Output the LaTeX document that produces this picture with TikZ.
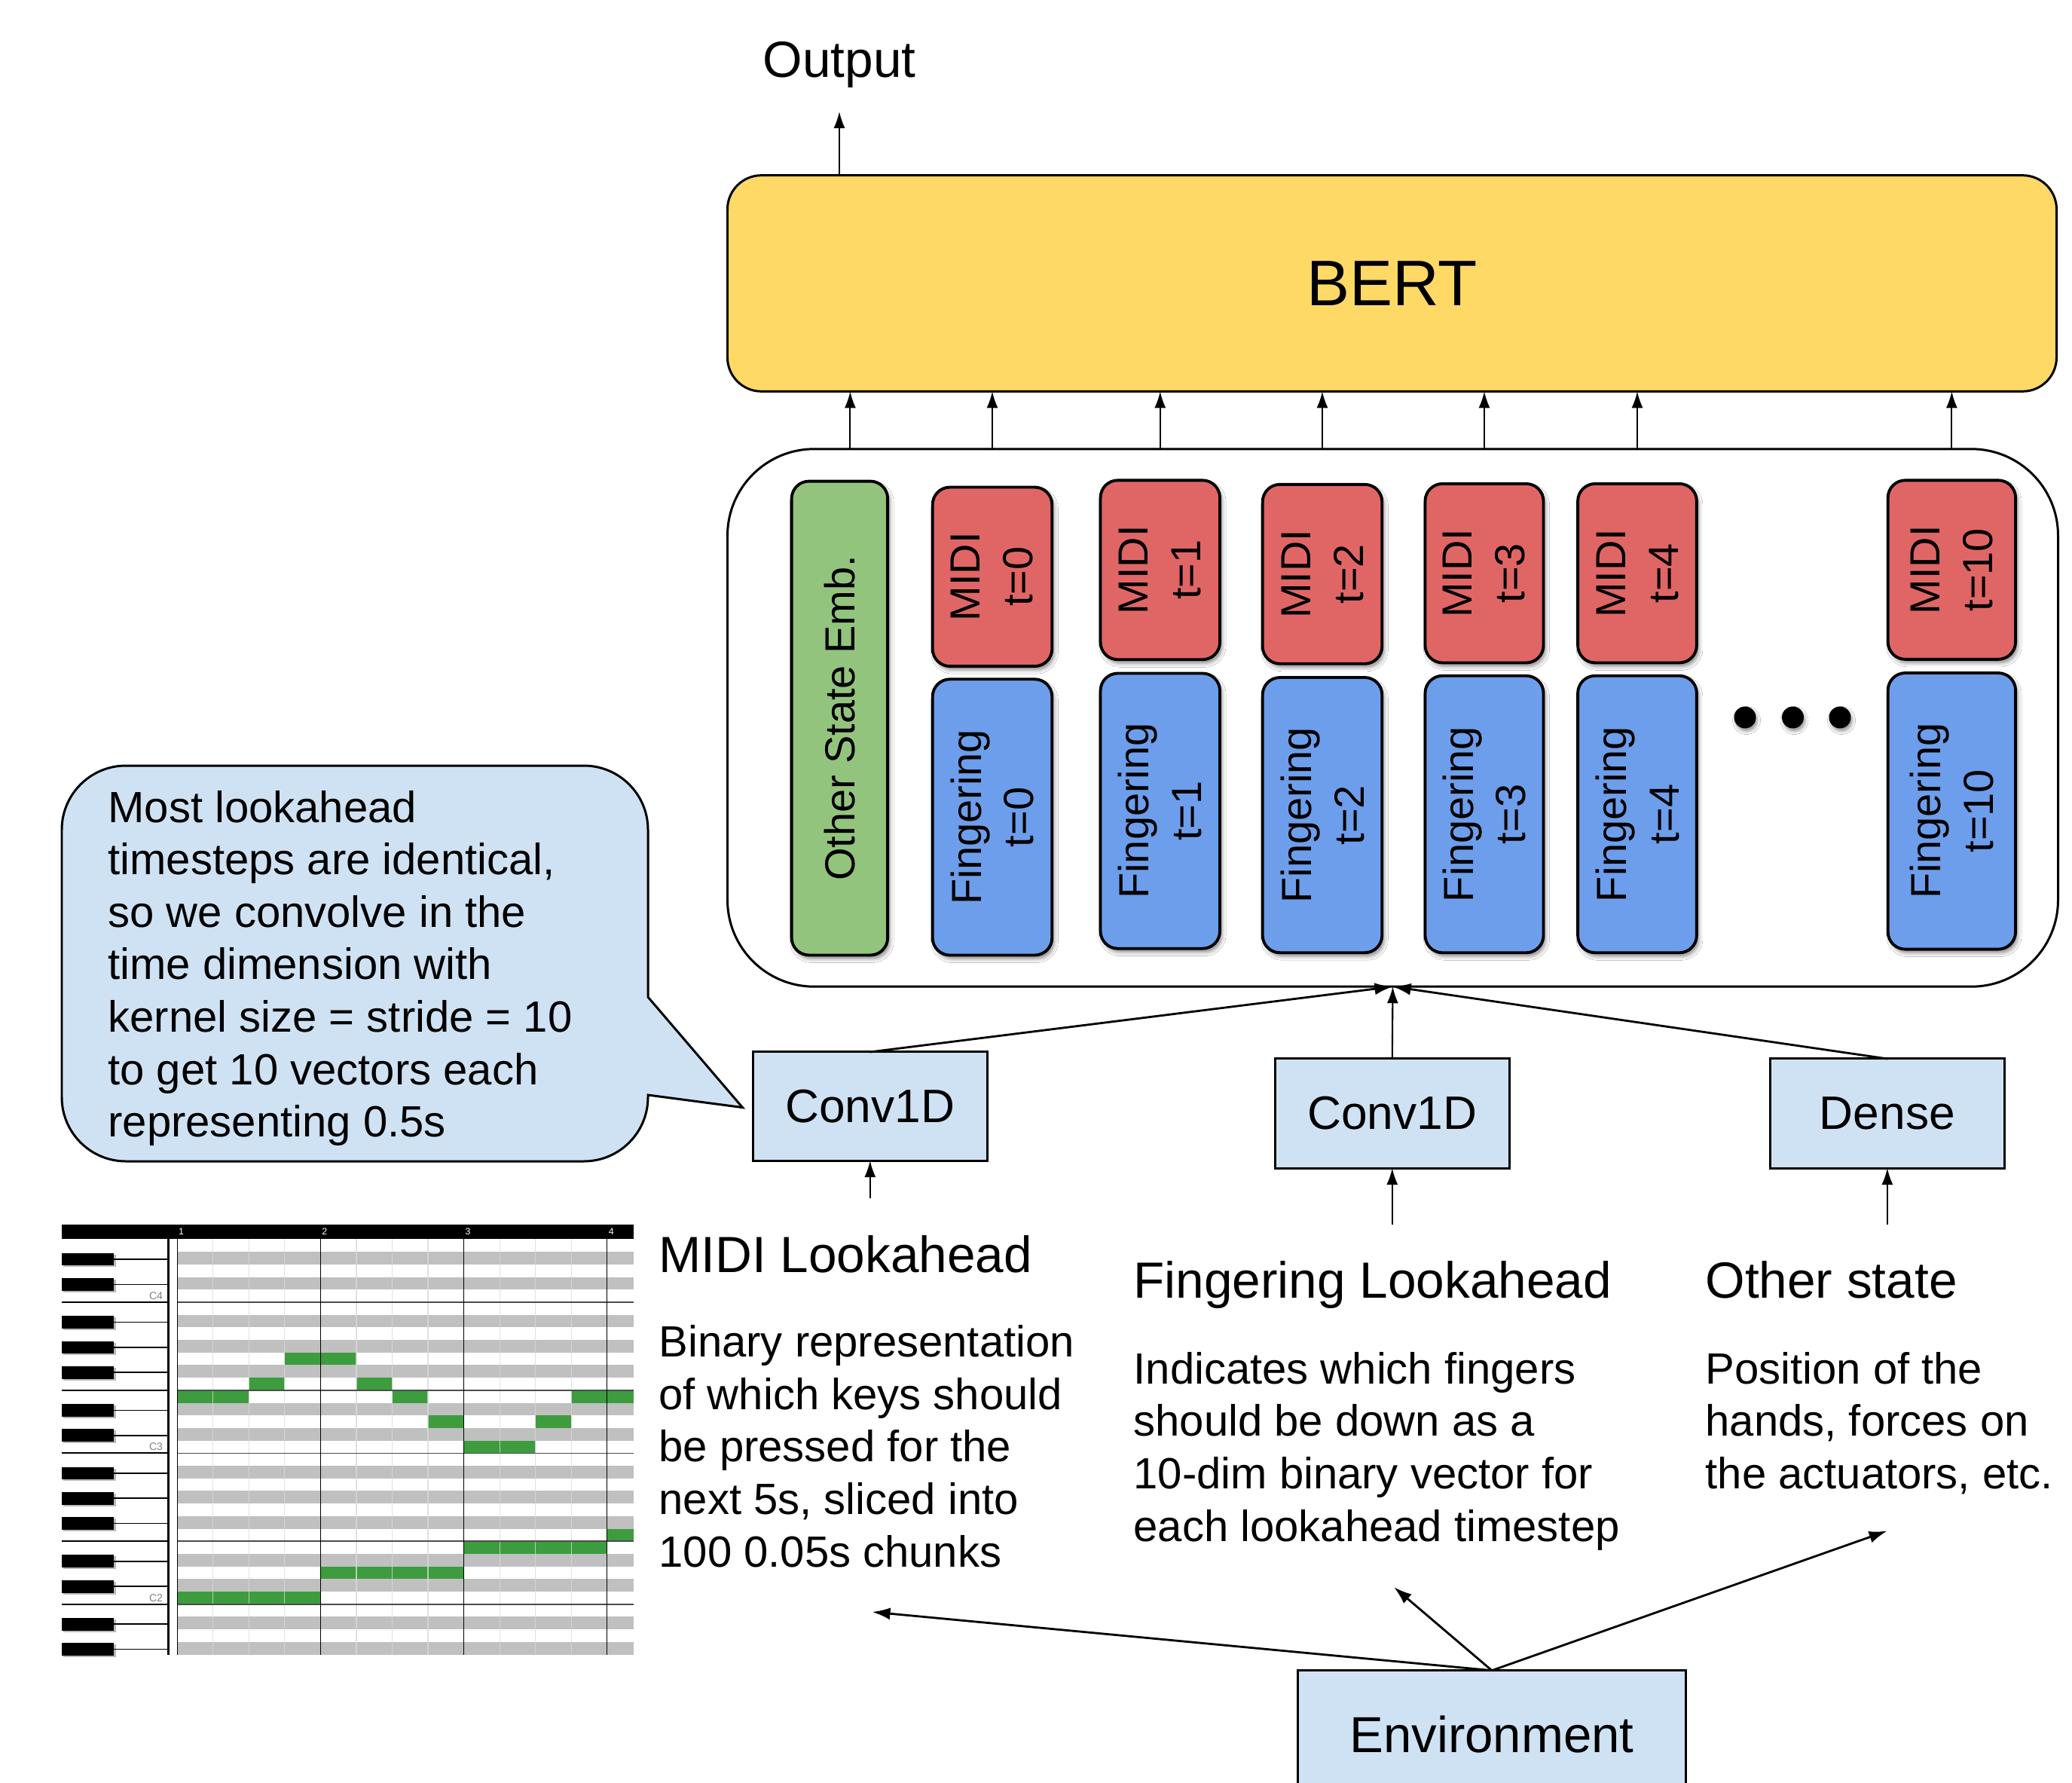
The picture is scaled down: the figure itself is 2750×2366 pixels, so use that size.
\documentclass[tikz,border=0pt]{standalone}
\usepackage{fontspec}
\setmainfont{Liberation Sans}
\usetikzlibrary{arrows.meta,calc,shadows.blur}
\definecolor{bertY}{HTML}{FFD966}
\definecolor{embG}{HTML}{93C47D}
\definecolor{midiR}{HTML}{E06666}
\definecolor{fingB}{HTML}{6D9EEB}
\definecolor{lightB}{HTML}{CFE2F3}
\definecolor{rowG}{HTML}{C0C0C0}
\definecolor{noteG}{HTML}{3D9C3D}
\definecolor{gridL}{HTML}{DADADA}
\newcommand\fBody{\fontsize{16.5}{19.8}\selectfont}
\newcommand\fHead{\fontsize{19.2}{23}\selectfont}
\newcommand\fBox{\fontsize{15.9}{19.9}\selectfont}
\newcommand\fConv{\fontsize{17.7}{21}\selectfont}
\newcommand\fEnv{\fontsize{19.1}{23}\selectfont}
\newcommand\fBert{\fontsize{24.3}{29}\selectfont}
\tikzset{
  every node/.style={inner sep=0pt, outer sep=0pt},
  arr/.style={-{Latex[length=0.22cm,width=0.15cm]}, line width=0.6pt},
  tarr/.style={-{Latex[length=0.24cm,width=0.16cm]}, line width=0.8pt},
  cbox/.style={draw=black, line width=1.1pt, rounded corners=0.23cm,
    blur shadow={shadow xshift=0.03cm, shadow yshift=-0.05cm, shadow blur radius=0.05cm, shadow opacity=45}},
  boxtext/.style={rotate=90, align=center, font=\fBox},
  lbox/.style={draw=black, fill=lightB, line width=0.85pt, minimum width=3.11cm, minimum height=1.44cm, font=\fConv},
  dotnode/.style={circle, fill=black, minimum size=0.29cm,
    blur shadow={shadow xshift=0.02cm, shadow yshift=-0.04cm, shadow blur radius=0.04cm, shadow opacity=40}},
  txt/.style={anchor=base west, font=\fBody},
  head/.style={anchor=base west, font=\fHead},
}
\begin{document}
\begin{tikzpicture}[x=0.01cm,y=-0.01cm]
\useasboundingbox (0,0) rectangle (2750,2366);
\clip (0,0) rectangle (2750,2366);

% ---------- BERT and output ----------
\node[draw=black, fill=bertY, line width=0.85pt, rounded corners=0.45cm,
      minimum width=17.63cm, minimum height=2.865cm, font=\fBert] (bert) at (1847.5,376) {BERT};
\node[anchor=base, font=\fHead] (out) at (1114,102) {Output};
\draw[arr] (bert.north -| out) -- ($(out.south)+(0,32)$);

% ---------- container ----------
\node[draw=black, fill=white, line width=0.85pt, rounded corners=1.15cm,
      minimum width=17.65cm, minimum height=7.13cm] (cont) at (1848.5,952.5) {};

% ---------- embedding boxes ----------
\node[cbox, fill=embG, minimum width=1.274cm, minimum height=6.285cm] (emb) at (1114.4,953) {};
\node[boxtext] (embt) at (emb) {Other State Emb.};

\node[cbox, fill=midiR, minimum width=1.585cm, minimum height=2.374cm] (m0) at (1317,765.3) {};
\node[cbox, fill=midiR, minimum width=1.584cm, minimum height=2.378cm] (m1) at (1539.8,756.3) {};
\node[cbox, fill=midiR, minimum width=1.585cm, minimum height=2.378cm] (m2) at (1755,761.8) {};
\node[cbox, fill=midiR, minimum width=1.570cm, minimum height=2.374cm] (m3) at (1970,760.7) {};
\node[cbox, fill=midiR, minimum width=1.577cm, minimum height=2.374cm] (m4) at (2173,760.7) {};
\node[cbox, fill=midiR, minimum width=1.693cm, minimum height=2.374cm] (m10) at (2590.4,756.1) {};

\node[cbox, fill=fingB, minimum width=1.585cm, minimum height=3.660cm] (f0) at (1317,1084.4) {};
\node[cbox, fill=fingB, minimum width=1.584cm, minimum height=3.650cm] (f1) at (1539.8,1076.1) {};
\node[cbox, fill=fingB, minimum width=1.585cm, minimum height=3.650cm] (f2) at (1755,1081.6) {};
\node[cbox, fill=fingB, minimum width=1.570cm, minimum height=3.673cm] (f3) at (1970,1080.5) {};
\node[cbox, fill=fingB, minimum width=1.577cm, minimum height=3.673cm] (f4) at (2173,1080.5) {};
\node[cbox, fill=fingB, minimum width=1.693cm, minimum height=3.664cm] (f10) at (2590.4,1076.3) {};

\foreach \n/\t in {0/0,1/1,2/2,3/3,4/4,10/10}{
  \node[boxtext] (m\n t) at (m\n) {MIDI\\t=\t};
  \node[boxtext] (f\n t) at (f\n) {Fingering\\t=\t};
}

\node[dotnode] (d1) at (2316,952) {};
\node[dotnode] (d2) at (2379.5,952) {};
\node[dotnode] (d3) at (2442,952) {};

% ---------- arrows into BERT ----------
\draw[arr] ($(emb |- cont.north)+(14,0)$) -- ($(emb |- bert.south)+(14,0)$);
\foreach \n in {m0,m1,m2,m3,m4,m10}
  \draw[arr] (\n |- cont.north) -- (\n |- bert.south);

% ---------- encoders ----------
\node[lbox] (conv1) at (1154.8,1468) {Conv1D};
\node[lbox, minimum height=1.45cm] (conv2) at (1847.8,1477.5) {Conv1D};
\node[lbox, minimum height=1.45cm] (dense) at (2504.9,1477.5) {Dense};

\draw[tarr] (conv1.north) -- (cont.south);
\draw[arr] (conv2.north) -- (cont.south);
\draw[tarr] (dense.north) -- (cont.south);

\coordinate (c1in) at (1154.8,1590);
\coordinate (c2in) at (1847.8,1625);
\coordinate (dsin) at (2504.9,1625);
\draw[arr] (c1in) -- (conv1.south);
\draw[arr] (c2in) -- (conv2.south);
\draw[arr] (dsin) -- (dense.south);

% ---------- callout ----------
\draw[draw=black, fill=lightB, line width=0.85pt]
  (860,1323) -- (985.5,1469.6) -- (860,1453)
  [rounded corners=0.85cm] -- (860,1541) -- (82,1541) -- (82,1016) -- (860,1016)
  [sharp corners] -- cycle;
\node[txt] (calltxt) at (143.5,1091) {\vtop{\hbox{Most lookahead}\hbox{timesteps are identical,}\hbox{so we convolve in the}\hbox{time dimension with}\hbox{kernel size = stride = 10}\hbox{to get 10 vectors each}\hbox{representing 0.5s}}};

% ---------- lower texts ----------
\node[head] (midih) at (874.5,1688) {MIDI Lookahead};
\node[txt] (midip) at (874.5,1800.7) {\vtop{\hbox{Binary representation}\hbox{of which keys should}\hbox{be pressed for the}\hbox{next 5s, sliced into}\hbox{100 0.05s chunks}}};
\node[head] (fingh) at (1504.6,1722.7) {Fingering Lookahead};
\node[txt] (fingp) at (1504.6,1836.2) {\vtop{\hbox{Indicates which fingers}\hbox{should be down as a}\hbox{10-dim binary vector for}\hbox{each lookahead timestep}}};
\node[head] (othh) at (2263.6,1722.7) {Other state};
\node[txt] (othp) at (2263.6,1836.2) {\vtop{\hbox{Position of the}\hbox{hands, forces on}\hbox{the actuators, etc.}}};

% ---------- environment ----------
\node[lbox, minimum width=5.14cm, minimum height=1.686cm, font=\fEnv] (env) at (1980,2301) {Environment};
\coordinate (tmidi) at (1157.5,2139);
\coordinate (tfing) at (1850,2106);
\coordinate (toth) at (2504.6,2031.5);
\draw[tarr] (env.north) -- (tmidi);
\draw[tarr] (env.north) -- (tfing);
\draw[tarr] (env.north) -- (toth);

% ---------- piano roll ----------
\fill[black] (82,1625) rectangle (841,1644.4);
\foreach \b/\x in {1/237,2/427.4,3/617.6,4/807.8}
  \node[text=white, font=\fontsize{3.5}{4}\selectfont, anchor=west] at (\x,1634.5) {\b};
\foreach \r in {1,3,6,8,10,13,15,18,20,22,25,27,30,32}
  \fill[rowG] (235.2,{1644.4+\r*16.7}) rectangle (841,{1644.4+(\r+1)*16.7});
\foreach \r/\a/\b in {9/3/5, 11/2/3, 11/5/6, 12/0/2, 12/6/7, 12/11/12.74, 14/7/8, 14/10/11, 16/8/10, 23/12/12.74, 24/8/12, 26/4/8, 28/0/4}
  \fill[noteG] ({235.2+\a*47.55},{1644.4+\r*16.7}) rectangle ({235.2+\b*47.55},{1644.4+(\r+1)*16.7});
\foreach \c in {1,2,3,5,6,7,9,10,11}
  \draw[gridL, line width=0.35pt, opacity=0.8] ({235.2+\c*47.55},1644.4) -- ({235.2+\c*47.55},2195.5);
\foreach \r in {5,12,17,24,29}{
  \draw[gray!60!black, line width=0.45pt] (235.2,{1644.4+\r*16.7}) -- (841,{1644.4+\r*16.7});
  \draw[black, line width=0.5pt] (82,{1644.4+\r*16.7}) -- (223.6,{1644.4+\r*16.7});
}
\foreach \c in {0,4,8,12}
  \draw[black, line width=0.35pt] ({235.2+\c*47.55},1644.4) -- ({235.2+\c*47.55},2195.5);
\foreach \r in {1,3,6,8,10,13,15,18,20,22,25,27,30,32}{
  \fill[gray!55] (84,{1644.4+\r*16.7+3.5}) rectangle (153.5,{1644.4+(\r+1)*16.7+3.5});
  \fill[black] (82,{1644.4+\r*16.7+1.5}) rectangle (150.5,{1644.4+(\r+1)*16.7+1.5});
  \draw[black, line width=0.45pt] (150.5,{1644.4+(\r+0.5)*16.7+1.5}) -- (223.6,{1644.4+(\r+0.5)*16.7+1.5});
}
\draw[black, line width=0.7pt] (223.6,1644.4) -- (223.6,2195.5);
\foreach \r/\l in {4/C4,16/C3,28/C2}
  \node[text=gray, font=\fontsize{4}{5}\selectfont, anchor=east] at (216,{1644.4+(\r+0.5)*16.7}) {\l};
\end{tikzpicture}
\end{document}
